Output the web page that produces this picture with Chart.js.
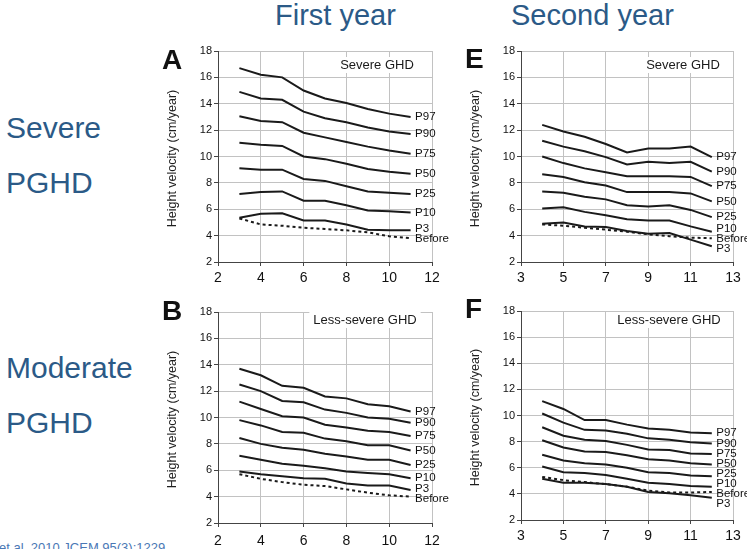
<!DOCTYPE html>
<html>
<head>
<meta charset="utf-8">
<script src="https://cdn.jsdelivr.net/npm/chart.js@4.4.1/dist/chart.umd.min.js"></script>
<style>
  html, body { margin: 0; padding: 0; }
  body { width: 747px; height: 549px; overflow: hidden; background: #fff; position: relative;
         font-family: "Liberation Sans", Arial, sans-serif; }
  .big { position: absolute; color: #2b5a87; line-height: 1; white-space: nowrap; }
  .title { font-size: 29px; }
  .side { font-size: 30px; }
  .cite { position: absolute; color: #4a78b5; font-size: 13px; line-height: 1; white-space: nowrap; }
  canvas { position: absolute; }
</style>
</head>
<body>
<div class="big title" style="left:275px;top:1px;">First year</div>
<div class="big title" style="left:511px;top:1px;">Second year</div>
<div class="big side" style="left:6px;top:113px;">Severe</div>
<div class="big side" style="left:6px;top:168px;">PGHD</div>
<div class="big side" style="left:6px;top:353px;">Moderate</div>
<div class="big side" style="left:6px;top:408px;">PGHD</div>
<div class="cite" style="left:-1px;top:541px;">et al. 2010 JCEM 95(3):1229</div>

<script>
// ---------------- DATA ----------------
const agesFirstYear  = [3, 4, 5, 6, 7, 8, 9, 10, 11];
const agesSecondYear = [4, 5, 6, 7, 8, 9, 10, 11, 12];
const percentileNames = ['P97', 'P90', 'P75', 'P50', 'P25', 'P10', 'P3', 'Before'];

const xTicksFirstYear  = [2, 4, 6, 8, 10, 12];
const xTicksSecondYear = [3, 5, 7, 9, 11, 13];
const yTicksVelocity   = [2, 4, 6, 8, 10, 12, 14, 16, 18];
const yAxisTitle = 'Height velocity (cm/year)';

// Panel A: first year, severe GHD (rows follow percentileNames)
const severeFirstYear = [
  [16.7, 16.2, 16.0, 15.0, 14.4, 14.05, 13.6, 13.25, 13.0],
  [14.9, 14.4, 14.3, 13.4, 12.9, 12.6, 12.2, 11.9, 11.7],
  [13.05, 12.7, 12.6, 11.8, 11.45, 11.1, 10.75, 10.45, 10.2],
  [11.05, 10.9, 10.8, 10.0, 9.8, 9.45, 9.05, 8.85, 8.7],
  [9.1, 9.0, 9.0, 8.3, 8.15, 7.75, 7.35, 7.25, 7.15],
  [7.15, 7.3, 7.35, 6.65, 6.65, 6.3, 5.9, 5.85, 5.75],
  [5.35, 5.65, 5.7, 5.15, 5.15, 4.85, 4.45, 4.4, 4.4],
  [5.3, 4.85, 4.75, 4.6, 4.5, 4.4, 4.25, 3.95, 3.8]
];
// Panel E: second year, severe GHD
const severeSecondYear = [
  [12.4, 11.9, 11.5, 10.95, 10.3, 10.6, 10.6, 10.75, 9.95],
  [11.2, 10.75, 10.4, 9.95, 9.4, 9.6, 9.5, 9.6, 8.85],
  [10.0, 9.5, 9.1, 8.8, 8.5, 8.5, 8.5, 8.45, 7.75],
  [8.65, 8.45, 8.05, 7.8, 7.3, 7.3, 7.3, 7.2, 6.6],
  [7.35, 7.25, 6.95, 6.75, 6.3, 6.2, 6.3, 5.95, 5.4],
  [6.05, 6.15, 5.8, 5.55, 5.25, 5.15, 5.15, 4.7, 4.3],
  [4.9, 5.0, 4.7, 4.65, 4.35, 4.15, 4.2, 3.7, 3.2],
  [4.85, 4.75, 4.6, 4.45, 4.3, 4.1, 3.95, 3.85, 3.8]
];
// Panel B: first year, less-severe GHD
const lessSevereFirstYear = [
  [13.7, 13.2, 12.4, 12.25, 11.6, 11.45, 11.0, 10.85, 10.45],
  [12.5, 12.0, 11.25, 11.15, 10.6, 10.35, 10.0, 9.9, 9.6],
  [11.2, 10.65, 10.1, 10.0, 9.45, 9.25, 9.0, 8.9, 8.6],
  [9.8, 9.4, 8.9, 8.85, 8.4, 8.2, 7.9, 7.9, 7.5],
  [8.45, 8.0, 7.7, 7.55, 7.25, 7.05, 6.8, 6.8, 6.4],
  [7.1, 6.8, 6.5, 6.35, 6.15, 5.9, 5.8, 5.7, 5.4],
  [5.9, 5.7, 5.55, 5.4, 5.35, 5.0, 4.85, 4.85, 4.5],
  [5.7, 5.35, 5.1, 4.9, 4.8, 4.55, 4.3, 4.1, 4.0]
];
// Panel F: second year, less-severe GHD
const lessSevereSecondYear = [
  [11.1, 10.5, 9.65, 9.65, 9.3, 9.0, 8.9, 8.7, 8.65],
  [10.15, 9.45, 8.9, 8.85, 8.6, 8.25, 8.15, 7.95, 7.85],
  [9.1, 8.45, 8.15, 8.05, 7.75, 7.4, 7.35, 7.1, 7.05],
  [8.1, 7.55, 7.25, 7.2, 6.95, 6.65, 6.55, 6.35, 6.25],
  [7.0, 6.55, 6.35, 6.25, 6.0, 5.65, 5.6, 5.4, 5.35],
  [6.1, 5.65, 5.6, 5.45, 5.15, 4.85, 4.75, 4.6, 4.55],
  [5.15, 4.85, 4.85, 4.75, 4.55, 4.15, 4.05, 3.9, 3.7],
  [5.3, 5.05, 4.9, 4.75, 4.55, 4.25, 4.1, 4.1, 4.15]
];

// ---------------- LAYOUT ----------------
const FONT = '"Liberation Sans", Arial, sans-serif';
const panels = [
  { letter: 'A', note: 'Severe GHD',      ages: agesFirstYear,  values: severeFirstYear,      xTicks: xTicksFirstYear,
    area: { l: 218, t: 51,  r: 432, b: 262 }, letterDY: 18, noteDX: 55, noteDY: 14, xPad: 4 },
  { letter: 'E', note: 'Severe GHD',      ages: agesSecondYear, values: severeSecondYear,     xTicks: xTicksSecondYear,
    area: { l: 521, t: 51,  r: 733, b: 262 }, letterDY: 17, noteDX: 50, noteDY: 14, xPad: 4 },
  { letter: 'B', note: 'Less-severe GHD', ages: agesFirstYear,  values: lessSevereFirstYear,  xTicks: xTicksFirstYear,
    area: { l: 218, t: 312, r: 432, b: 523 }, letterDY: 8,  noteDX: 67, noteDY: 8,  xPad: 6 },
  { letter: 'F', note: 'Less-severe GHD', ages: agesSecondYear, values: lessSevereSecondYear, xTicks: xTicksSecondYear,
    area: { l: 521, t: 311, r: 733, b: 520 }, letterDY: 7,  noteDX: 64, noteDY: 9,  xPad: 4 }
];

const Y_AXIS_W = 68, X_AXIS_H = 30, PAD_TOP = 13, PAD_RIGHT = 40;

function spread(items, gap) {
  for (let k = 0; k < 500; k++) {
    let moved = false;
    for (let i = 0; i < items.length - 1; i++) {
      const a = items[i], b = items[i + 1];
      const d = b.y - a.y;
      if (d < gap - 0.01) { const s = (gap - d) / 2; a.y -= s; b.y += s; moved = true; }
    }
    if (!moved) break;
  }
}

function decorPlugin(p) {
  return {
    id: 'decor' + p.letter,
    afterDraw(chart) {
      const ctx = chart.ctx, ca = chart.chartArea;
      ctx.save();
      // panel letter
      ctx.fillStyle = '#111';
      ctx.font = 'bold 28px ' + FONT;
      ctx.textAlign = 'left'; ctx.textBaseline = 'alphabetic';
      ctx.fillText(p.letter, ca.left - 56, ca.top + p.letterDY);
      // y axis title
      ctx.save();
      ctx.translate(ca.left - 45, (ca.top + ca.bottom) / 2 + 2);
      ctx.rotate(-Math.PI / 2);
      ctx.font = '12.5px ' + FONT;
      ctx.fillStyle = '#1e1e1e';
      ctx.textAlign = 'center'; ctx.textBaseline = 'middle';
      ctx.fillText(yAxisTitle, 0, 0);
      ctx.restore();
      // note box
      ctx.font = '13px ' + FONT;
      const w = ctx.measureText(p.note).width;
      const nx = ca.right - p.noteDX, ny = ca.top + p.noteDY;
      ctx.fillStyle = '#fff';
      ctx.fillRect(nx - w / 2 - 4, ny - 8, w + 8, 16);
      ctx.fillStyle = '#1a1a1a';
      ctx.textAlign = 'center'; ctx.textBaseline = 'middle';
      ctx.fillText(p.note, nx, ny);
      // series end labels
      const items = chart.data.datasets.map((ds, i) => {
        const meta = chart.getDatasetMeta(i);
        const pt = meta.data[meta.data.length - 1];
        return { text: ds.label, x: pt.x, y: pt.y };
      });
      items.sort((a, b) => a.y - b.y);
      spread(items, 10);
      ctx.font = '11.5px ' + FONT;
      ctx.fillStyle = '#111';
      ctx.textAlign = 'left'; ctx.textBaseline = 'middle';
      items.forEach(it => ctx.fillText(it.text, it.x + 4.5, it.y));
      ctx.restore();
    }
  };
}

function makePanel(p) {
  const cv = document.createElement('canvas');
  const L = p.area.l - Y_AXIS_W, T = p.area.t - PAD_TOP;
  const W = p.area.r - p.area.l + Y_AXIS_W + PAD_RIGHT;
  const H = p.area.b - p.area.t + PAD_TOP + X_AXIS_H;
  cv.width = W; cv.height = H;
  cv.style.left = L + 'px'; cv.style.top = T + 'px';
  cv.style.width = W + 'px'; cv.style.height = H + 'px';
  document.body.appendChild(cv);

  const datasets = percentileNames.map((name, i) => ({
    label: name,
    data: p.ages.map((a, j) => ({ x: a, y: p.values[i][j] })),
    borderColor: '#1a1a1a',
    borderWidth: 2,
    borderDash: name === 'Before' ? [3, 3] : [],
    pointRadius: 0,
    tension: 0,
    fill: false
  }));

  new Chart(cv, {
    type: 'line',
    data: { datasets },
    options: {
      responsive: false,
      animation: false,
      devicePixelRatio: 1,
      layout: { padding: { top: PAD_TOP, right: PAD_RIGHT, left: 0, bottom: 0 } },
      plugins: { legend: { display: false }, tooltip: { enabled: false } },
      scales: {
        x: {
          type: 'linear',
          min: p.xTicks[0], max: p.xTicks[p.xTicks.length - 1],
          afterBuildTicks: s => { s.ticks = p.xTicks.map(v => ({ value: v })); },
          afterFit: s => { s.height = X_AXIS_H; },
          grid: { color: '#c2c2c2', lineWidth: 1, tickLength: 4, tickColor: '#444' },
          border: { color: '#444', width: 1 },
          ticks: { font: { family: FONT, size: 14 }, color: '#111', padding: p.xPad, maxRotation: 0, autoSkip: false }
        },
        y: {
          type: 'linear',
          min: yTicksVelocity[0], max: yTicksVelocity[yTicksVelocity.length - 1],
          afterBuildTicks: s => { s.ticks = yTicksVelocity.map(v => ({ value: v })); },
          afterFit: s => { s.width = Y_AXIS_W; },
          grid: { color: '#c2c2c2', lineWidth: 1, tickLength: 4, tickColor: '#444' },
          border: { color: '#444', width: 1 },
          ticks: { font: { family: FONT, size: 11 }, color: '#111', padding: 2, autoSkip: false }
        }
      }
    },
    plugins: [decorPlugin(p)]
  });
}

panels.forEach(makePanel);
</script>
</body>
</html>
